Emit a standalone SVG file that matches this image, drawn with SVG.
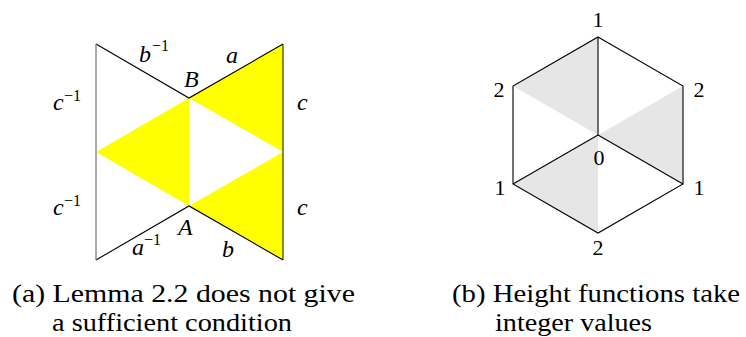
<svg xmlns="http://www.w3.org/2000/svg" width="746" height="337" viewBox="0 0 746 337">
<defs>
<style>
.edge{stroke:#000;stroke-width:1.1;fill:none}
.yel{fill:#ffff00;stroke:none}
.gry{fill:#e6e6e6;stroke:none}
</style>
</defs>
<rect width="746" height="337" fill="#fff"/>
<g id="figA">
  <g id="fillsA">
    <polygon class="yel" points="189,98 283,44 283,152"/>
    <polygon class="yel" points="96,152 189,98 189,206"/>
    <polygon class="yel" points="189,206 283,152 283,260"/>
  </g>
  <g id="edgesA">
    <polyline class="edge" points="96,44 189,98 283,44"/>
    <polyline class="edge" points="96,260 189,206 283,260"/>
    <line x1="283" y1="44" x2="283" y2="260" stroke="#222" stroke-width="1.1"/>
    <line x1="96" y1="44" x2="96" y2="260" stroke="#666" stroke-width="1.1"/>
  </g>
  <g id="labelsA" font-family="'Liberation Serif', serif" font-size="24" font-style="italic" fill="#000">
    <text x="139" y="62">b</text><text x="152" y="51" font-size="16" font-style="normal">−1</text>
    <text x="226" y="63">a</text>
    <text x="184" y="87">B</text>
    <text x="53" y="110">c</text><text x="64" y="101" font-size="16" font-style="normal">−1</text>
    <text x="297" y="110">c</text>
    <text x="53" y="215">c</text><text x="64" y="206" font-size="16" font-style="normal">−1</text>
    <text x="297" y="215">c</text>
    <text x="178" y="235">A</text>
    <text x="132" y="255">a</text><text x="144" y="245" font-size="16" font-style="normal">−1</text>
    <text x="222" y="257">b</text>
  </g>
</g>
<g id="figB">
  <g id="fillsB">
    <polygon class="gry" points="598,37 513,86 598,135"/>
    <polygon class="gry" points="598,135 683,86 683,184"/>
    <polygon class="gry" points="598,135 513,184 598,233"/>
  </g>
  <g id="edgesB">
    <polygon class="edge" points="598,37 683,86 683,184 598,233 513,184 513,86"/>
    <line class="edge" x1="598" y1="135" x2="598" y2="37"/>
    <line class="edge" x1="598" y1="135" x2="513" y2="184"/>
    <line class="edge" x1="598" y1="135" x2="683" y2="184"/>
  </g>
  <g id="labelsB" font-family="'Liberation Serif', serif" font-size="22" text-anchor="middle" fill="#000">
    <text x="598" y="27">1</text>
    <text x="499" y="97">2</text>
    <text x="699" y="97">2</text>
    <text x="599" y="165">0</text>
    <text x="500" y="195">1</text>
    <text x="699" y="195">1</text>
    <text x="598" y="255">2</text>
  </g>
</g>
<g id="captions" font-family="'Liberation Serif', serif" font-size="26" fill="#000">
  <text x="12" y="302" textLength="343" lengthAdjust="spacingAndGlyphs">(a) Lemma 2.2 does not give</text>
  <text x="52" y="331" textLength="240" lengthAdjust="spacingAndGlyphs">a sufficient condition</text>
  <text x="452" y="302" textLength="288" lengthAdjust="spacingAndGlyphs">(b) Height functions take</text>
  <text x="495" y="331" textLength="157" lengthAdjust="spacingAndGlyphs">integer values</text>
</g>
</svg>
